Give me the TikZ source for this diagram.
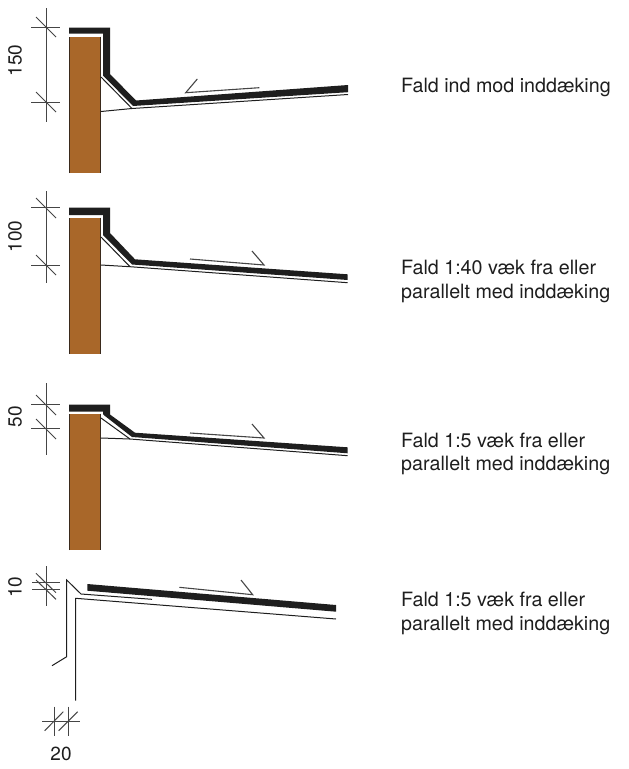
\documentclass[tikz,border=0pt]{standalone}
\usepackage{fontspec}
\setmainfont{TeX Gyre Heros}
\definecolor{wallbrown}{HTML}{A96729}
\definecolor{wallline}{HTML}{3A2A1C}
\definecolor{roofblack}{HTML}{1E1E1E}
\definecolor{dimgray}{HTML}{454545}
\tikzset{
  roofbar/.style={fill=roofblack,draw=none},
  wallfill/.style={fill=wallbrown,draw=none},
  walledge/.style={draw=wallline,line width=0.8pt},
  thinline/.style={draw=roofblack,line width=1pt},
  dimline/.style={draw=dimgray,line width=1pt},
  slopeline/.style={draw=dimgray,line width=1.1pt},
  caption/.style={anchor=base west,inner sep=0pt,font=\fontsize{19.7}{24}\selectfont,text=roofblack},
  dimtext/.style={inner sep=0pt,font=\fontsize{19}{20}\selectfont,text=roofblack}
}
\begin{document}
\begin{tikzpicture}[x=1pt,y=-1pt]
\useasboundingbox (0,0) rectangle (629,769);
\fill[wallfill] (69.5,36.5) rectangle (100.5,173);
\draw[walledge] (69.5,173) -- (69.5,36.5);
\draw[walledge] (100.5,36.5) -- (100.5,173);
\fill[roofbar] (69,27.5) -- (110,27.5) -- (110,74) -- (136,100.5) -- (348,85) -- (348,92.2) -- (133,106) -- (103,75.5) -- (103,33.5) -- (69,33.5) -- cycle;
\draw[thinline] (101,77) -- (132,108.5) -- (348,94.5);
\draw[thinline] (101,111.5) -- (132,108.5);
\draw[slopeline] (197.3,79) -- (185.7,92.7) -- (259.3,87.7);
\draw[dimline] (46,8) -- (46,122);
\draw[dimline] (31,27) -- (60,27);
\draw[dimline] (31,102) -- (60,102);
\draw[dimline] (36,17) -- (56,37);
\draw[dimline] (36,92) -- (56,112);
\node[dimtext,rotate=90] (dimA) at (15,60.5) {150};
\node[caption] (textA) at (401,92) {Fald ind mod inddæking};
\fill[wallfill] (69.5,217.5) rectangle (100.5,353.5);
\draw[walledge] (69.5,353.5) -- (69.5,217.5);
\draw[walledge] (100.5,217.5) -- (100.5,353.5);
\fill[roofbar] (69,207.7) -- (110,207.7) -- (110,233) -- (135,259.3) -- (347.7,274.3) -- (347.7,280) -- (132,264.5) -- (103,235) -- (103,215) -- (69,215) -- cycle;
\draw[thinline] (101,237) -- (130,266.7) -- (347.7,282.7);
\draw[thinline] (101,265) -- (130,266.7);
\draw[slopeline] (190,259) -- (264,265) -- (252,251);
\draw[dimline] (46,191) -- (46,283);
\draw[dimline] (31,207.7) -- (60,207.7);
\draw[dimline] (31,265) -- (60,265);
\draw[dimline] (36,198) -- (56,218);
\draw[dimline] (36,255) -- (56,275);
\node[dimtext,rotate=90] (dimB) at (15,236.5) {100};
\node[caption] (textBa) at (401,274) {Fald 1:40 væk fra eller};
\node[caption] (textBb) at (401,298) {parallelt med inddæking};
\fill[wallfill] (69.5,413.5) rectangle (100.5,550);
\draw[walledge] (69.5,550) -- (69.5,413.5);
\draw[walledge] (100.5,413.5) -- (100.5,550);
\fill[roofbar] (69,404.5) -- (110,404.5) -- (110,414.5) -- (135,432.7) -- (347.7,447.3) -- (347.7,453.3) -- (132,437) -- (105,416) -- (103,414) -- (103,411.5) -- (69,411.5) -- cycle;
\draw[thinline] (101,418) -- (130,439) -- (347.7,455.7);
\draw[thinline] (101,438) -- (130,439);
\draw[slopeline] (190,433) -- (264,438) -- (252,424);
\draw[dimline] (46,383) -- (46,454.7);
\draw[dimline] (31,404.3) -- (60,404.3);
\draw[dimline] (31,428.7) -- (60,428.7);
\draw[dimline] (36,395) -- (56,415);
\draw[dimline] (36,419) -- (56,439);
\node[dimtext,rotate=90] (dimC) at (15,416.5) {50};
\node[caption] (textCa) at (401,447) {Fald 1:5 væk fra eller};
\node[caption] (textCb) at (401,470) {parallelt med inddæking};
\fill[roofbar] (87.3,584) -- (336,605) -- (336,611.7) -- (87.3,590.7) -- cycle;
\draw[thinline] (52,665.7) -- (66.7,656.7) -- (66.7,580) -- (81,594) -- (152,599.3);
\draw[thinline] (75.7,700.7) -- (75.7,598.3) -- (336,619);
\draw[slopeline] (179.3,587.3) -- (252.7,594.7) -- (241,580);
\draw[dimline] (46,566) -- (46,606);
\draw[dimline] (32,582.7) -- (60,582.7);
\draw[dimline] (32,589.3) -- (60,589.3);
\draw[dimline] (36,573.3) -- (56,592.7);
\draw[dimline] (36,580) -- (56,599.3);
\node[dimtext,rotate=90] (dimD) at (15,587) {10};
\draw[dimline] (42,721) -- (80,721);
\draw[dimline] (54,706.7) -- (54,735.7);
\draw[dimline] (68,706.7) -- (68,735.7);
\draw[dimline] (44.7,730.7) -- (63.3,711.7);
\draw[dimline] (58.7,730.7) -- (77.7,711.7);
\node[dimtext] (dimE) at (61,754) {20};
\node[caption] (textDa) at (401,606) {Fald 1:5 væk fra eller};
\node[caption] (textDb) at (401,630) {parallelt med inddæking};
\end{tikzpicture}
\end{document}
